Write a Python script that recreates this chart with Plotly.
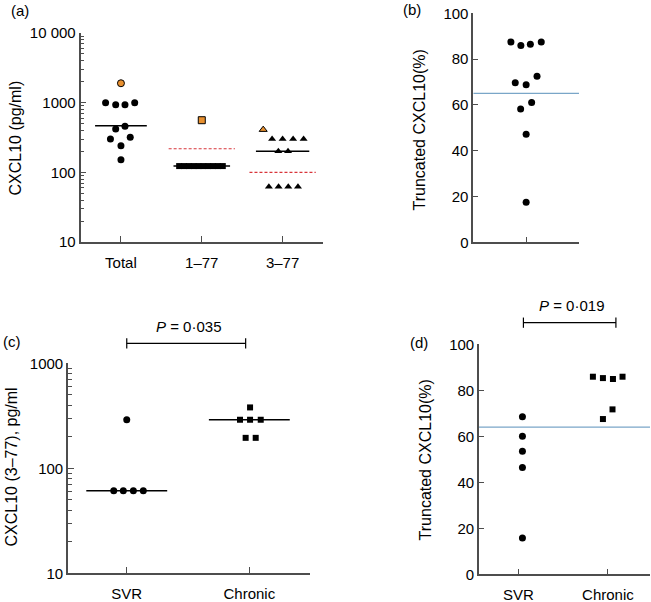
import plotly.graph_objects as go

# ---- panel (a): CXCL10 by form ----
groups_a = ["Total", "1–77", "3–77"]
total_hi = [1900]
total_vals = [1000, 935, 935, 1000, 420, 460, 300, 320, 240, 152]
total_jit = [-0.19, -0.065, 0.05, 0.17, -0.065, 0.05, -0.13, 0.115, 0, 0]
f177_hi = [560]
f177_vals = [123, 123, 123, 123, 123, 123, 123, 123, 123, 123]
f177_jit = [-0.28, -0.22, -0.16, -0.10, -0.04, 0.02, 0.08, 0.14, 0.20, 0.26]
f377_hi = [410]
f377_hi_jit = [-0.24]
f377_vals = [300, 300, 300, 300, 200, 200, 62, 62, 62, 62]
f377_jit = [-0.13, 0.0, 0.13, 0.26, -0.053, 0.067, -0.17, -0.05, 0.07, 0.19]
medians_a = [465, 123, 200]
cutoffs_a = [None, 218, 100]

# ---- panel (b): truncated CXCL10 % ----
trunc_b = [87.5, 85.9, 86.5, 87.5, 69.7, 68.8, 72.5, 58.2, 61.1, 47.2, 17.5]
trunc_b_jit = [-0.144, -0.05, 0.04, 0.143, -0.103, 0, 0.103, -0.052, 0.052, 0, 0]
ref_b = 65

# ---- panel (c): CXCL10 (3-77) SVR vs chronic ----
groups_cd = ["SVR", "Chronic"]
svr_c = [290, 61, 61, 61, 61]
svr_c_jit = [0, -0.106, -0.028, 0.054, 0.135]
chr_c = [380, 290, 290, 290, 195, 195]
chr_c_jit = [0.006, -0.076, 0.006, 0.093, -0.03, 0.052]
medians_c = [61, 290]
p_c = "<i>P</i> = 0·035"

# ---- panel (d): truncated % SVR vs chronic ----
svr_d = [68.5, 60, 53.5, 46.4, 15.8]
svr_d_jit = [0.045, 0.045, 0.045, 0.045, 0.045]
chr_d = [85.9, 85.3, 84.9, 85.9, 67.5, 71.7]
chr_d_jit = [-0.168, -0.056, 0.056, 0.163, -0.056, 0.051]
ref_d = 64
p_d = "<i>P</i> = 0·019"

FONT = "Liberation Sans, Arial, sans-serif"
AX = "#4d4d4d"
ORANGE = "#e8902f"
RED = "#d8343a"
BLUE = "#7aa6c8"

fig = go.Figure()


def pts(x, y, xa, ya, symbol, size, color, outline=0):
    fig.add_trace(go.Scatter(
        x=x, y=y, xaxis=xa, yaxis=ya, mode="markers", cliponaxis=False,
        marker=dict(symbol=symbol, size=size, color=color,
                    line=dict(color="black", width=outline)),
        showlegend=False, hoverinfo="skip"))


def hline(g, val, hw, xa, ya, color="black", width=1.5, dash="solid"):
    fig.add_trace(go.Scatter(
        x=[g - hw, g + hw], y=[val, val], xaxis=xa, yaxis=ya, mode="lines",
        line=dict(color=color, width=width, dash=dash),
        showlegend=False, hoverinfo="skip"))


# panel (a)
hline(0, medians_a[0], 0.32, "x", "y")
hline(1, medians_a[1], 0.35, "x", "y")
hline(2, medians_a[2], 0.33, "x", "y")
for g in (1, 2):
    hline(g, cutoffs_a[g], 0.41, "x", "y", color=RED, width=1.2, dash="3px,2px")
pts(total_jit, total_vals, "x", "y", "circle", 7, "black")
pts([0], total_hi, "x", "y", "circle", 7, ORANGE, 1)
pts([1 + j for j in f177_jit], f177_vals, "x", "y", "square", 6, "black")
pts([1], f177_hi, "x", "y", "square", 7, ORANGE, 1)
pts([2 + j for j in f377_jit], f377_vals, "x", "y", "triangle-up", 7, "black")
pts([2 + j for j in f377_hi_jit], f377_hi, "x", "y", "triangle-up", 7, ORANGE, 1)

# panel (b)
hline(0, ref_b, 0.5, "x2", "y2", color=BLUE, width=1.3)
pts(trunc_b_jit, trunc_b, "x2", "y2", "circle", 7, "black")

# panel (c)
hline(0, medians_c[0], 0.33, "x3", "y3")
hline(1, medians_c[1], 0.33, "x3", "y3")
pts(svr_c_jit, svr_c, "x3", "y3", "circle", 7, "black")
pts([1 + j for j in chr_c_jit], chr_c, "x3", "y3", "square", 6, "black")

# panel (d)
hline(0.515, ref_d, 0.955, "x4", "y4", color=BLUE, width=1.3)
pts(svr_d_jit, svr_d, "x4", "y4", "circle", 7, "black")
pts([1 + j for j in chr_d_jit], chr_d, "x4", "y4", "square", 6, "black")

tickfont = dict(family=FONT, size=15, color="black")
common = dict(showline=True, linecolor=AX, linewidth=1.6, ticks="inside",
              tickcolor=AX, tickwidth=1.3, ticklen=6, showgrid=False,
              zeroline=False, tickfont=tickfont, fixedrange=True,
              automargin=False)
minor_log = dict(ticks="inside", ticklen=4, tickcolor=AX, tickwidth=1,
                 dtick="D1", showgrid=False)

fig.update_layout(
    template="none",
    width=651, height=602, margin=dict(l=0, r=0, t=0, b=0, pad=0),
    paper_bgcolor="white", plot_bgcolor="white", showlegend=False,
    font=dict(family=FONT, size=15, color="black"),
    xaxis=dict(common, domain=[0.1237, 0.4962], range=[-0.5, 2.5], anchor="y",
               tickmode="array", tickvals=[0, 1, 2], ticktext=groups_a,
               ticklabelstandoff=6),
    yaxis=dict(common, domain=[0.598, 0.9452], type="log", range=[1, 4],
               anchor="x", tickmode="array", tickvals=[10, 100, 1000, 10000],
               ticktext=["10", "100", "1000", "10 000"], minor=minor_log),
    xaxis2=dict(common, domain=[0.727, 0.8894], range=[-0.5, 0.5], anchor="y2",
                tickmode="array", tickvals=[0], showticklabels=False),
    yaxis2=dict(common, domain=[0.5975, 0.9779], range=[0, 100], anchor="x2",
                tickmode="array", tickvals=[0, 20, 40, 60, 80, 100], ticklen=5),
    xaxis3=dict(common, domain=[0.1045, 0.4762], range=[-0.479, 1.495], anchor="y3",
                tickmode="array", tickvals=[0, 1], ticktext=groups_cd,
                ticklabelstandoff=6),
    yaxis3=dict(common, domain=[0.0477, 0.3965], type="log", range=[1, 3],
                anchor="x3", tickmode="array", tickvals=[10, 100, 1000],
                minor=minor_log),
    xaxis4=dict(common, domain=[0.7358, 0.9985], range=[-0.44, 1.47], anchor="y4",
                tickmode="array", tickvals=[0, 1], ticktext=groups_cd,
                ticklabelstandoff=6),
    yaxis4=dict(common, domain=[0.046, 0.4281], range=[0, 100], anchor="x4",
                tickmode="array", tickvals=[0, 20, 40, 60, 80, 100], ticklen=5),
)

# significance brackets
for xa, x0, x1, yb in (("x3", 0, 0.97, 0.4297), ("x4", 0.056, 1.089, 0.464)):
    fig.add_shape(type="line", xref=xa, yref="paper", x0=x0, x1=x1, y0=yb, y1=yb,
                  line=dict(color="black", width=1.2))
    for xe in (x0, x1):
        fig.add_shape(type="line", xref=xa, yref="paper", x0=xe, x1=xe,
                      y0=yb - 0.0085, y1=yb + 0.0085,
                      line=dict(color="black", width=1.2))

centred = dict(showarrow=False, xanchor="center", yanchor="middle")
fig.add_annotation(text=p_c, xref="x3", yref="paper", x=0.5, y=0.4573,
                   font=dict(size=15), **centred)
fig.add_annotation(text=p_d, xref="x4", yref="paper", x=0.597, y=0.4917,
                   font=dict(size=15), **centred)

# axis titles
titles = [
    ("CXCL10 (pg/ml)", 15, 0.77),
    ("Truncated CXCL10(%)", 419, 0.785),
    ("CXCL10 (3–77), pg/ml", 12, 0.2234),
    ("Truncated CXCL10(%)", 425.5, 0.236),
]
for txt, px, py in titles:
    fig.add_annotation(text=txt, xref="paper", yref="paper", x=px / 651, y=py,
                       textangle=-90, font=dict(size=16), **centred)

# panel letters
letters = [("(a)", 20, 11), ("(b)", 412, 10), ("(c)", 12, 341), ("(d)", 419, 342.5)]
for txt, px, py in letters:
    fig.add_annotation(text=txt, xref="paper", yref="paper", x=px / 651,
                       y=1 - py / 602, font=dict(size=15), **centred)

fig.write_html("out.html", config={"displayModeBar": False},
               post_script="document.body.style.margin = '0';")
